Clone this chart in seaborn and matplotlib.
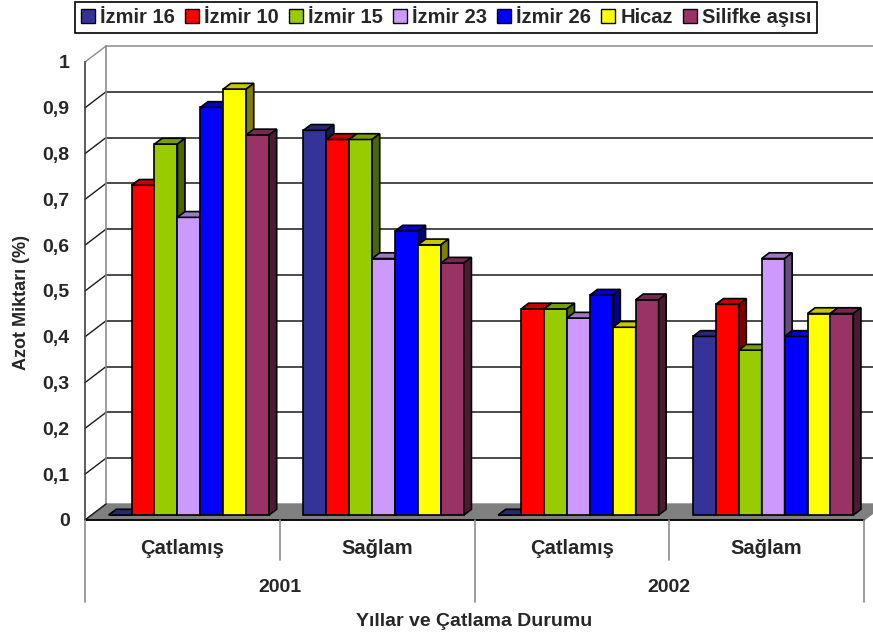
import matplotlib
matplotlib.use("Agg")
import matplotlib.pyplot as plt
import seaborn as sns
import pandas as pd
from matplotlib.patches import Polygon, Patch
from matplotlib.colors import to_rgb

# --- data -------------------------------------------------------------
varieties = ["İzmir 16", "İzmir 10", "İzmir 15", "İzmir 23", "İzmir 26", "Hicaz", "Silifke aşısı"]
conditions = ["Çatlamış", "Sağlam", "Çatlamış", "Sağlam"]
condition_years = ["2001", "2001", "2002", "2002"]
years = ["2001", "2002"]

izmir16 = [0.00, 0.84, 0.00, 0.39]
izmir10 = [0.72, 0.82, 0.45, 0.46]
izmir15 = [0.81, 0.82, 0.45, 0.36]
izmir23 = [0.65, 0.56, 0.43, 0.56]
izmir26 = [0.89, 0.62, 0.48, 0.39]
hicaz = [0.93, 0.59, 0.41, 0.44]
silifke = [0.83, 0.55, 0.47, 0.44]

yticks = [0, 0.1, 0.2, 0.3, 0.4, 0.5, 0.6, 0.7, 0.8, 0.9, 1.0]
ytick_labels = ["0", "0,1", "0,2", "0,3", "0,4", "0,5", "0,6", "0,7", "0,8", "0,9", "1"]

colors = ["#333399", "#FF0000", "#99CC00", "#CC99FF", "#0000FF", "#FFFF00", "#993366"]

series = [izmir16, izmir10, izmir15, izmir23, izmir26, hicaz, silifke]
groups = [f"{y} {c}" for y, c in zip(condition_years, conditions)]
df = pd.DataFrame(
    [(g, v, vals[i]) for v, vals in zip(varieties, series) for i, g in enumerate(groups)],
    columns=["group", "variety", "value"],
)

# --- style ------------------------------------------------------------
sns.set_style("white")
plt.rcParams["font.family"] = ["Liberation Sans", "DejaVu Sans"]
plt.rcParams["font.weight"] = "bold"

W, H = 873, 637
fig = plt.figure(figsize=(W / 100, H / 100), dpi=100)
fig.patch.set_facecolor("white")

# front plane of the plot: x from 85 to 864 px, y=0 at 520 px, y=1 at 62 px
Y0, PX_PER_UNIT = 520, 458
ax = fig.add_axes([85 / W, (H - Y0) / H, 779 / W, PX_PER_UNIT / H])
ax.set_facecolor("none")

sns.barplot(
    data=df, x="group", y="value", hue="variety", order=groups, hue_order=varieties,
    palette=colors, width=0.824, saturation=1, edgecolor="black", linewidth=1.2,
    errorbar=None, legend=False, ax=ax,
)
ax.set_xlim(-0.5, 3.5)
ax.set_ylim(0, 1)

# 3-D look: full depth of the box and depth span of the columns
DXW = 21 / 194.75        # x shift of back wall (data units)
DYW = 16 / PX_PER_UNIT   # y shift of back wall (data units)
D0, D1 = 0.31, 0.67

wall_col = "#8c8c8c"
grid_col = "#1a1a1a"

# floor
floor = Polygon([(-0.5, 0), (3.5, 0), (3.5 + DXW, DYW), (-0.5 + DXW, DYW)],
                closed=True, facecolor="#808080", edgecolor="#808080", lw=1,
                clip_on=False, zorder=1)
ax.add_patch(floor)

# back wall gridlines and side-wall diagonals
for v in yticks[1:]:
    c = wall_col if v == 1.0 else grid_col
    ax.plot([-0.5 + DXW, 3.5 + DXW], [v + DYW, v + DYW], color=c, lw=1.1,
            clip_on=False, zorder=0.5)
    ax.plot([-0.5, -0.5 + DXW], [v, v + DYW], color=grid_col if v < 1 else wall_col,
            lw=1.0, clip_on=False, zorder=0.5)
ax.plot([-0.5 + DXW, -0.5 + DXW], [DYW, 1 + DYW], color=wall_col, lw=1.2,
        clip_on=False, zorder=0.6)
ax.plot([-0.5, -0.5 + DXW], [0, DYW], color=grid_col, lw=1.0, clip_on=False, zorder=1.1)

# columns: shift seaborn's bars to the front face and add top / side faces
bars = sorted([p for p in ax.patches if p is not floor], key=lambda p: p.get_x())
ddx, ddy = (D1 - D0) * DXW, (D1 - D0) * DYW
for i, p in enumerate(bars):
    x0, w, h = p.get_x(), p.get_width(), p.get_height()
    fx, fb = x0 + D0 * DXW, D0 * DYW
    ft = fb + h
    p.set_x(fx)
    p.set_y(fb)
    p.set_clip_on(False)
    z = 3 + i * 0.01
    p.set_zorder(z)
    rgb = to_rgb(p.get_facecolor())
    top_c = tuple(c * 0.78 for c in rgb)
    side_c = tuple(c * 0.5 for c in rgb)
    top = Polygon([(fx, ft), (fx + w, ft), (fx + w + ddx, ft + ddy), (fx + ddx, ft + ddy)],
                  closed=True, facecolor=top_c, edgecolor="black", lw=1.2,
                  clip_on=False, zorder=z + 0.002)
    ax.add_patch(top)
    if h > 0:
        side = Polygon([(fx + w, fb), (fx + w, ft), (fx + w + ddx, ft + ddy), (fx + w + ddx, fb + ddy)],
                       closed=True, facecolor=side_c, edgecolor="black", lw=1.2,
                       clip_on=False, zorder=z + 0.004)
        ax.add_patch(side)

# axes frame
for s in ["top", "right", "bottom"]:
    ax.spines[s].set_visible(False)
ax.spines["left"].set_color("#404040")
ax.spines["left"].set_linewidth(1.2)
ax.spines["left"].set_zorder(0.7)
ax.set_yticks(yticks)
ax.set_yticklabels(ytick_labels, fontsize=14, fontweight="bold")
ax.tick_params(axis="y", length=7, width=1.1, color="black", pad=4, direction="out")
ax.set_xticks([])
ax.set_xlabel("")
ax.set_ylabel("")

# category axis below the floor
ax.plot([-0.5, 3.5], [0, 0], color="black", lw=1.3, clip_on=False, zorder=2)
short_len, long_len = 40 / PX_PER_UNIT, 82 / PX_PER_UNIT
for xs in [0.5, 2.5]:
    ax.plot([xs, xs], [0, -short_len], color=wall_col, lw=1.2, clip_on=False)
for xs in [-0.5, 1.5, 3.5]:
    ax.plot([xs, xs], [0, -long_len], color=wall_col, lw=1.2, clip_on=False)
for i, cond in enumerate(conditions):
    ax.text(i, -28 / PX_PER_UNIT, cond, ha="center", va="center", fontsize=14.5,
            fontweight="bold", clip_on=False)
for j, yr in enumerate(years):
    ax.text(2 * j + 0.5, -68 / PX_PER_UNIT, yr, ha="center", va="center", fontsize=14,
            fontweight="bold", clip_on=False)

fig.text(474 / W, 1 - 621 / H, "Yıllar ve Çatlama Durumu", ha="center", va="center",
         fontsize=14, fontweight="bold")
fig.text(22 / W, 1 - 302 / H, "Azot Miktarı (%)", ha="center", va="center",
         rotation=90, fontsize=13, fontweight="bold")

# legend
handles = [Patch(facecolor=c, edgecolor="black", lw=1.0) for c in colors]
leg = fig.legend(
    handles, varieties, loc="upper center", bbox_to_anchor=(446 / W, 1 - 2 / H),
    ncol=7, frameon=True, fancybox=False, edgecolor="black", framealpha=1,
    handlelength=0.7, handleheight=0.75, handletextpad=0.25, columnspacing=0.5,
    borderpad=0.3, borderaxespad=0, prop={"weight": "bold", "size": 14.5},
)
leg.get_frame().set_linewidth(1.2)

fig.savefig("out.png", dpi=100, facecolor="white")
